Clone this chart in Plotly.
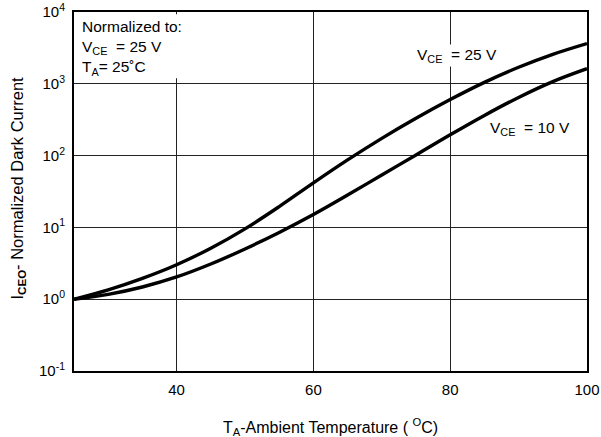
import plotly.graph_objects as go

temps = [25, 30, 35, 40, 45, 50, 55, 60, 65, 70, 75, 80, 85, 90, 95, 100]
vce25 = [1.0, 1.35, 1.95, 3.02, 5.13, 9.55, 19.5, 41.7, 87.1, 174.0, 331.0, 603.0, 1047.0, 1698.0, 2570.0, 3631.0]
vce10 = [1.0, 1.17, 1.48, 2.04, 3.09, 5.01, 8.51, 15.1, 28.2, 53.7, 102.0, 195.0, 363.0, 646.0, 1072.0, 1622.0]
x_ticks = [40, 60, 80, 100]
y_ticks = [0.1, 1, 10, 100, 1000, 10000]
y_tick_text = ["10<sup>-1</sup>", "10<sup>0</sup>", "10<sup>1</sup>", "10<sup>2</sup>",
               "10<sup>3</sup>", "10<sup>4</sup>"]

FONT = "Liberation Sans, Arial, sans-serif"
FS = 15

fig = go.Figure()
for ys in (vce25, vce10):
    fig.add_trace(go.Scatter(x=temps, y=ys, mode="lines",
                             line=dict(color="black", width=3.4, shape="spline", smoothing=1.0),
                             showlegend=False, hoverinfo="skip"))

fig.update_layout(
    width=601, height=437,
    margin=dict(l=74, r=14, t=12, b=66),
    paper_bgcolor="white", plot_bgcolor="white",
    font=dict(family=FONT, size=FS, color="black"),
)
fig.update_xaxes(range=[25, 100], tickvals=x_ticks, showgrid=True, gridcolor="#222", gridwidth=1,
                 showline=True, linecolor="black", linewidth=2, mirror=True,
                 ticks="", ticklabelstandoff=4, zeroline=False, automargin=False,
                 tickfont=dict(family=FONT, size=FS))
fig.update_yaxes(type="log", range=[-1, 4], tickmode="array", tickvals=y_ticks, ticktext=y_tick_text,
                 showgrid=True, gridcolor="#222", gridwidth=1,
                 showline=True, linecolor="black", linewidth=2, mirror=True,
                 ticks="", ticklabelstandoff=4, zeroline=False, automargin=False,
                 tickfont=dict(family=FONT, size=FS))

# white patch behind the "Normalized to" note (hides gridline there)
fig.add_shape(type="rect", xref="x", yref="y", x0=25.3, x1=40.45, y0=10 ** 3.077, y1=10 ** 3.97,
              fillcolor="white", line=dict(width=0), layer="above")

ann = [
    dict(text="<b>Dark Current vs. Temperature</b>", x=0.5, y=1, xref="paper", yref="paper",
         xanchor="center", yanchor="bottom", yshift=15, xshift=-10, font=dict(size=16)),
    dict(text="Normalized to:<br>V<sub>CE</sub>  = 25 V<br>T<sub>A</sub>= 25˚C", x=0, y=1,
         xref="paper", yref="paper", xanchor="left", yanchor="top", align="left",
         xshift=6, yshift=-4, font=dict(size=15.5)),
    dict(text="V<sub>CE</sub>  = 25 V", x=81, y=3.39, xref="x", yref="y",
         xanchor="center", yanchor="middle", bgcolor="white", font=dict(size=15.5)),
    dict(text="V<sub>CE</sub>  = 10 V", x=91.7, y=2.38, xref="x", yref="y",
         xanchor="center", yanchor="middle", bgcolor="white", font=dict(size=15.5)),
    dict(text="I<sub><b>CEO</b></sub>- Normalized Dark Current", x=0, y=0.5, xref="paper",
         yref="paper", xanchor="center", yanchor="middle", xshift=17 - 74, yshift=3,
         textangle=-90, font=dict(size=16.5)),
    dict(text="T<sub>A</sub>-Ambient Temperature ( <sup>O</sup>C)", x=0.5, y=0, xref="paper",
         yref="paper", xanchor="center", yanchor="middle", yshift=-56, font=dict(size=16)),
]
for a in ann:
    a.setdefault("showarrow", False)
fig.update_layout(annotations=ann)

fig.write_html("out.html")
